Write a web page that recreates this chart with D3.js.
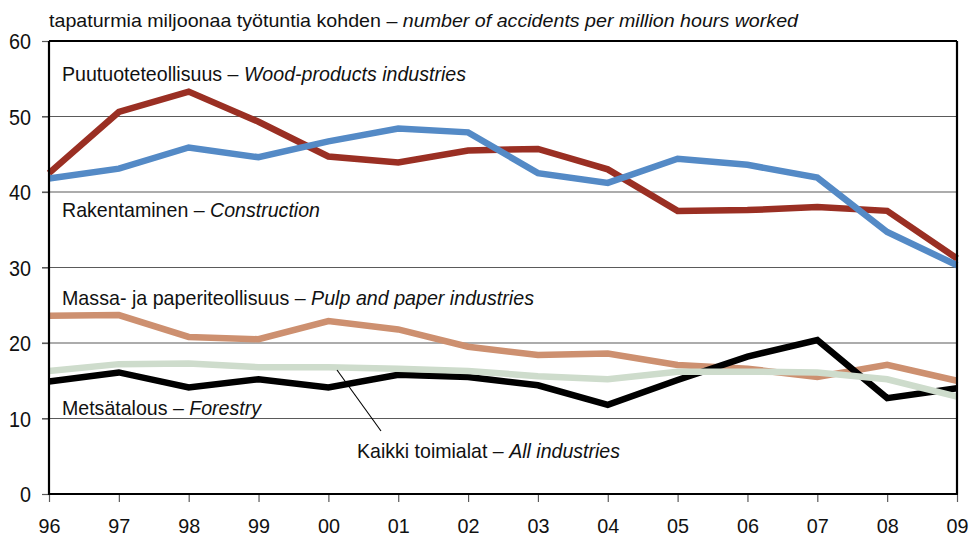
<!DOCTYPE html>
<html>
<head>
<meta charset="utf-8">
<script src="https://cdn.jsdelivr.net/npm/d3@7"></script>
<style>
  html, body { margin: 0; padding: 0; background: #fff; }
  svg { display: block; }
  text { font-family: "Liberation Sans", Arial, sans-serif; fill: #111; }
</style>
</head>
<body>
<svg id="chart" width="971" height="538"></svg>
<script>
const years = ["96","97","98","99","00","01","02","03","04","05","06","07","08","09"];
const yTicks = [0, 10, 20, 30, 40, 50, 60];

const woodProducts = [42.5, 50.6, 53.3, 49.3, 44.7, 43.9, 45.5, 45.7, 43.0, 37.5, 37.6, 38.0, 37.5, 31.2];
const construction = [41.8, 43.1, 45.9, 44.6, 46.7, 48.4, 47.9, 42.5, 41.2, 44.4, 43.6, 41.9, 34.7, 30.3];
const pulpPaper    = [23.6, 23.7, 20.8, 20.5, 22.9, 21.8, 19.5, 18.4, 18.6, 17.1, 16.6, 15.5, 17.1, 15.0];
const forestry     = [14.9, 16.1, 14.1, 15.2, 14.1, 15.8, 15.5, 14.4, 11.8, 15.1, 18.2, 20.4, 12.7, 14.0];
const allIndustries= [16.3, 17.2, 17.3, 16.8, 16.8, 16.6, 16.3, 15.6, 15.2, 16.2, 16.2, 16.1, 15.2, 12.9];

const series = [
  { name: "wood", values: woodProducts, color: "#9a2f23" },
  { name: "construction", values: construction, color: "#548ac6" },
  { name: "pulp", values: pulpPaper, color: "#cd9070" },
  { name: "forestry", values: forestry, color: "#000000" },
  { name: "all", values: allIndustries, color: "#cedccc" }
];

const svg = d3.select("#chart");
const mL = 49, mR = 957, mT = 41, mB = 494;

const x = d3.scalePoint().domain(years).range([mL, mR]);
const y = d3.scaleLinear().domain([0, 60]).range([mB, mT]);

// gridlines
svg.append("g").selectAll("line").data(yTicks.filter(d => d > 0 && d < 60)).join("line")
  .attr("x1", mL - 7).attr("x2", mR)
  .attr("y1", d => y(d)).attr("y2", d => y(d))
  .attr("stroke", "#5a5a5a").attr("stroke-width", 1.2);

// y axis
const yAxis = svg.append("g").attr("transform", `translate(${mL},0)`)
  .call(d3.axisLeft(y).tickValues(yTicks).tickSize(7).tickPadding(11).tickFormat(d3.format("d")));
yAxis.select(".domain").remove();
yAxis.selectAll(".tick line").attr("stroke", "#5a5a5a").attr("stroke-width", 1.2);
yAxis.selectAll(".tick text")
  .attr("font-size", 22).attr("fill", "#111").attr("dy", "0.36em")
  .style("font-family", "'Liberation Sans', Arial, sans-serif")
  .attr("textLength", d => String(d).length * 11).attr("lengthAdjust", "spacingAndGlyphs");

// x axis
const xAxis = svg.append("g").attr("transform", `translate(0,${mB})`)
  .call(d3.axisBottom(x).tickSize(8).tickPadding(0));
xAxis.select(".domain").remove();
xAxis.selectAll(".tick line").attr("stroke", "#5a5a5a").attr("stroke-width", 1.2);
xAxis.selectAll(".tick text")
  .attr("font-size", 21).attr("fill", "#111").attr("dy", 0).attr("y", 39)
  .style("font-family", "'Liberation Sans', Arial, sans-serif")
  .attr("textLength", 22).attr("lengthAdjust", "spacingAndGlyphs");

// lines
const line = d3.line().x((d, i) => x(years[i])).y(d => y(d));
svg.append("g").selectAll("path").data(series).join("path")
  .attr("d", d => line(d.values))
  .attr("fill", "none")
  .attr("stroke", d => d.color)
  .attr("stroke-width", 6.5)
  .attr("stroke-linejoin", "miter")
  .attr("stroke-linecap", "butt");

// frame
svg.append("line").attr("x1", mL).attr("x2", mR).attr("y1", mT).attr("y2", mT)
  .attr("stroke", "#000").attr("stroke-width", 2.2);
svg.append("line").attr("x1", mR).attr("x2", mR).attr("y1", mT).attr("y2", mB)
  .attr("stroke", "#000").attr("stroke-width", 2.2);
svg.append("line").attr("x1", mL).attr("x2", mL).attr("y1", mT).attr("y2", mB + 1)
  .attr("stroke", "#000").attr("stroke-width", 2.2);
svg.append("line").attr("x1", mL).attr("x2", mR + 1).attr("y1", mB).attr("y2", mB)
  .attr("stroke", "#000").attr("stroke-width", 2.2);

// leader line for all industries
svg.append("line").attr("x1", 337).attr("y1", 370).attr("x2", 381).attr("y2", 431)
  .attr("stroke", "#000").attr("stroke-width", 1.1);

// labels
function label(xp, yp, normal, italic, width, size) {
  const t = svg.append("text").attr("x", xp).attr("y", yp).attr("font-size", size)
    .attr("textLength", width).attr("lengthAdjust", "spacingAndGlyphs");
  t.append("tspan").text(normal);
  t.append("tspan").attr("font-style", "italic").text(italic);
}
label(49, 27, "tapaturmia miljoonaa työtuntia kohden – ", "number of accidents per million hours worked", 749, 18.5);
label(62, 81, "Puutuoteteollisuus – ", "Wood-products industries", 404, 21);
label(62, 217, "Rakentaminen – ", "Construction", 258, 21);
label(62, 305, "Massa- ja paperiteollisuus – ", "Pulp and paper industries", 472, 21);
label(62, 415, "Metsätalous – ", "Forestry", 199, 21);
label(357, 458, "Kaikki toimialat – ", "All industries", 263, 21);
</script>
</body>
</html>
